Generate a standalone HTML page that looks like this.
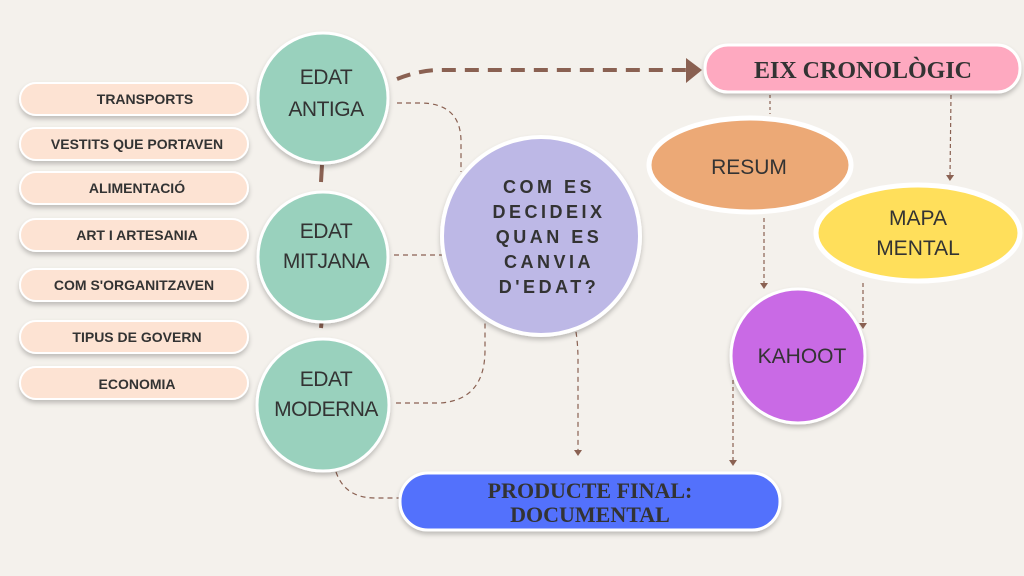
<!DOCTYPE html>
<html><head><meta charset="utf-8"><style>
html,body{margin:0;padding:0;background:#f4f1ec;}
svg{display:block}
.s{font-family:"Liberation Sans",sans-serif;fill:#333;text-anchor:middle}
.r{font-family:"Liberation Serif",serif;fill:#333;text-anchor:middle;font-weight:bold}
</style></head><body>
<svg width="1024" height="576" viewBox="0 0 1024 576" xmlns="http://www.w3.org/2000/svg">
<defs>
<filter id="sh" x="-20%" y="-20%" width="140%" height="150%"><feDropShadow dx="0" dy="3" stdDeviation="2.5" flood-color="#000" flood-opacity="0.22"/></filter>
<marker id="ar" markerWidth="8" markerHeight="8" refX="2" refY="4" orient="auto" markerUnits="userSpaceOnUse"><path d="M0,0 L6,4 L0,8 Z" fill="#8a6152"/></marker>
</defs>
<rect width="1024" height="576" fill="#f4f1ec"/>
<g fill="none" stroke="#8a6152">
<path d="M397,79 Q420,70 440,70 L686,70" stroke-width="4" stroke-dasharray="14,9"/>
<path d="M397,103 L420,103 Q460,103 461,140 L461,172" stroke-width="1.2" stroke-dasharray="5,4"/>
<path d="M394,255 L442,255" stroke-width="1.2" stroke-dasharray="5,4"/>
<path d="M396,403 L440,403 Q485,400 485,350 L485,322" stroke-width="1.2" stroke-dasharray="5,4"/>
<path d="M336,472 Q345,498 375,498 L402,498" stroke-width="1.2" stroke-dasharray="5,4"/>
<path d="M576,332 Q578,345 578,360 L578,452" stroke-width="1.2" stroke-dasharray="5,4" marker-end="url(#ar)"/>
<path d="M770,95 L770,114" stroke-width="1.2" stroke-dasharray="3,3"/>
<path d="M951,95 L950,177" stroke-width="1.2" stroke-dasharray="4,3" marker-end="url(#ar)"/>
<path d="M764,218 L764,285" stroke-width="1.2" stroke-dasharray="4,3" marker-end="url(#ar)"/>
<path d="M863,283 L863,325" stroke-width="1.2" stroke-dasharray="4,3" marker-end="url(#ar)"/>
<path d="M733,380 L733,462" stroke-width="1.2" stroke-dasharray="4,3" marker-end="url(#ar)"/>
<path d="M322,165 L321,182 M322,318 L321,328" stroke-width="4"/>
</g>
<path d="M686,58 L702,70 L686,83 Z" fill="#8a6152"/>
<g filter="url(#sh)" fill="#fde3d3" stroke="#fff" stroke-width="2">
<rect x="20" y="83" width="228" height="32" rx="16"/>
<rect x="20" y="128" width="228" height="32" rx="16"/>
<rect x="20" y="172" width="228" height="32" rx="16"/>
<rect x="20" y="219" width="228" height="32" rx="16"/>
<rect x="20" y="269" width="228" height="32" rx="16"/>
<rect x="20" y="321" width="228" height="32" rx="16"/>
<rect x="20" y="367" width="228" height="32" rx="16"/>
</g>
<g class="s" font-size="14" font-weight="bold">
<text x="145" y="104">TRANSPORTS</text>
<text x="137" y="149">VESTITS QUE PORTAVEN</text>
<text x="137" y="193">ALIMENTACIÓ</text>
<text x="137" y="240">ART I ARTESANIA</text>
<text x="134" y="290">COM S'ORGANITZAVEN</text>
<text x="137" y="342">TIPUS DE GOVERN</text>
<text x="137" y="389">ECONOMIA</text>
</g>
<g filter="url(#sh)" fill="#99d1bd" stroke="#fff" stroke-width="3">
<circle cx="323" cy="98" r="65"/>
<circle cx="323" cy="257" r="65"/>
<circle cx="323" cy="405" r="66"/>
</g>
<g class="s" font-size="21" letter-spacing="-0.5">
<text x="326" y="84">EDAT</text><text x="326" y="116">ANTIGA</text>
<text x="326" y="238">EDAT</text><text x="326" y="268">MITJANA</text>
<text x="326" y="386">EDAT</text><text x="326" y="416">MODERNA</text>
</g>
<circle cx="541" cy="236" r="99" fill="#bdb8e6" stroke="#fff" stroke-width="4" filter="url(#sh)"/>
<g class="s" font-size="18" font-weight="bold" letter-spacing="3.5">
<text x="549" y="193">COM ES</text>
<text x="549" y="218">DECIDEIX</text>
<text x="549" y="243">QUAN ES</text>
<text x="549" y="268">CANVIA</text>
<text x="549" y="293">D'EDAT?</text>
</g>
<rect x="705" y="45" width="315" height="47" rx="23" fill="#fea9c0" stroke="#fff" stroke-width="3" filter="url(#sh)"/>
<text class="r" x="863" y="78" font-size="24">EIX CRONOLÒGIC</text>
<ellipse cx="750" cy="165" rx="101" ry="47" fill="#eca976" stroke="#fff" stroke-width="5"/>
<text class="s" x="749" y="174" font-size="21">RESUM</text>
<ellipse cx="918" cy="233" rx="102" ry="48" fill="#ffdf5b" stroke="#fff" stroke-width="5"/>
<text class="s" x="918" y="225" font-size="21">MAPA</text>
<text class="s" x="918" y="255" font-size="21">MENTAL</text>
<circle cx="798" cy="356" r="67" fill="#c96ae5" stroke="#fff" stroke-width="3" filter="url(#sh)"/>
<text class="s" x="802" y="363" font-size="21">KAHOOT</text>
<rect x="400" y="473" width="380" height="57" rx="28" fill="#5371fc" stroke="#fff" stroke-width="3" filter="url(#sh)"/>
<text class="r" x="590" y="498" font-size="22">PRODUCTE FINAL:</text>
<text class="r" x="590" y="522" font-size="22">DOCUMENTAL</text>
</svg>
</body></html>
